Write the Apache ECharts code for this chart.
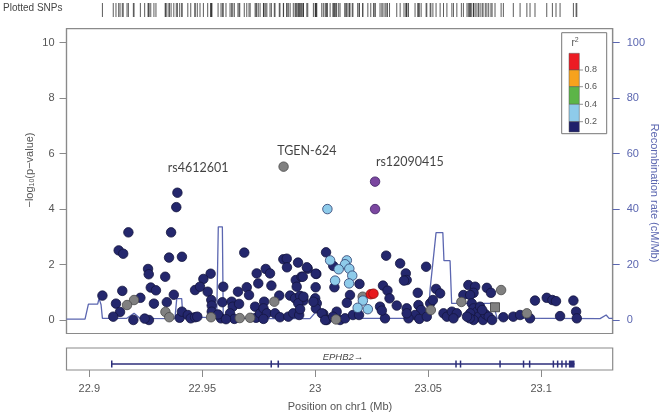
<!DOCTYPE html>
<html><head><meta charset="utf-8">
<script src="https://cdn.jsdelivr.net/npm/echarts@6/dist/echarts.min.js"></script>
<style>html,body{margin:0;padding:0;background:#fff}#c{width:661px;height:416px}</style>
</head><body><div id="c"></div>
<script>
// ---- data ----
const navySNPs = [
[22.939,4.59],[22.9385,4.07],[22.9173,3.16],[22.9362,3.16],[22.913,2.51],[22.915,2.39],[22.9353,2.25],[22.941,2.28],
[22.9686,2.43],[22.9859,2.19],[22.9874,2.21],[22.9875,1.90],[22.9924,2.07],[22.9967,1.85],[23.0005,1.66],[23.0048,2.44],
[22.926,1.84],[22.9263,1.65],[22.9336,1.56],[22.9537,1.67],[22.9505,1.48],[22.9741,1.68],[22.9781,1.84],[22.98,1.68],
[22.9748,1.32],[22.9806,1.24],[22.9914,1.44],[22.9939,1.56],[22.9918,1.20],[23.0002,1.18],[22.9058,0.88],[22.9146,1.05],
[22.9272,1.17],[22.9295,1.07],[22.9226,0.80],[22.9118,0.59],[22.9136,0.29],[22.9106,0.12],[22.9286,0.59],[22.9264,0.0],
[22.9343,0.64],[22.9374,0.91],[22.940,0.08],[22.941,0.30],[22.9436,0.18],[22.9449,0.06],[22.9468,0.10],[22.9478,0.12],
[22.9468,1.08],[22.949,1.20],[22.9524,1.02],[22.954,0.72],[22.9542,0.52],[22.9542,0.30],[22.9589,0.64],[22.9593,1.20],
[22.9583,0.06],[22.963,0.66],[22.9635,0.48],[22.9623,0.24],[22.9642,0.04],[22.9663,0.58],[22.9658,1.02],[22.9697,1.18],
[22.9707,0.90],[22.9734,0.48],[22.9738,0.08],[22.9756,0.24],[22.9774,0.66],[22.9771,0.42],[22.9786,0.24],[22.9771,0.04],
[22.9841,0.88],[22.9822,0.24],[22.9844,0.10],[22.9881,0.12],[22.9903,0.24],[22.9929,0.18],[22.9889,0.88],[22.9911,0.78],
[22.9933,0.87],[22.9948,0.70],[22.9925,0.60],[22.9933,0.39],[23.0,0.78],[23.0007,0.60],[23.0003,0.42],[23.0036,0.22],
[23.0051,0.0],[23.0095,0.30],[23.008,1.95],[22.9963,1.90],[23.0002,1.67],[22.9945,1.56],[22.9948,0.84],[22.9992,0.66],
[23.0085,1.18],[23.0154,0.90],[23.014,0.62],[23.0196,1.30],[23.0314,2.32],[23.03,1.24],[23.032,1.06],[23.0329,0.78],
[23.0287,0.48],[23.0309,0.06],[23.0295,0.34],[23.0376,2.04],[23.0401,1.68],[23.0405,1.44],[23.0393,1.42],[23.0454,0.98],
[23.0491,1.92],[23.0361,0.52],[23.0405,0.42],[23.0457,0.54],[23.0469,0.36],[23.0509,0.60],[23.0521,0.72],[23.0535,1.12],
[23.0553,0.96],[23.0442,0.18],[23.0461,0.04],[23.0494,0.12],[23.0413,0.06],[23.0405,0.24],[23.0568,0.24],[23.0583,0.12],
[23.0605,0.30],[23.0627,0.24],[23.0612,0.06],[23.0656,0.90],[23.0678,1.26],[23.0708,1.20],[23.0701,0.98],[23.0686,0.90],
[23.0760,1.16],[23.0778,0.98],[23.0693,0.60],[23.0701,0.42],[23.0716,0.30],[23.073,0.48],[23.0723,0.12],[23.0686,0.24],
[23.0701,0.0],[23.0743,0.0],[23.0753,0.21],[23.0768,0.12],[23.0783,0.0],[23.0739,0.36],[23.0684,0.06],[23.0672,0.12],
[23.0833,0.10],[23.0877,0.12],[23.0907,0.18],[23.0951,0.06],[23.0973,0.70],[23.1025,0.80],[23.105,0.72],[23.1066,0.68],
[23.1084,0.14],[23.1143,0.70],[23.1155,0.30],[23.1158,0.06],[23.0029,0.24],[23.0044,0.0],[23.0079,0.12],[23.011,0.0],
[23.0132,0.06],[23.0167,0.18],[23.0194,0.18],[22.9245,0.05],[22.9195,0.0],[22.957,0.2],[22.9605,0.03]
];
const graySNPs = [
[22.986,5.53],[22.9198,0.72],[22.9167,0.54],[22.9337,0.29],[22.9354,0.10],[22.9539,0.10],[22.9666,0.07],[22.9712,0.08],
[22.9819,0.66],[23.0512,0.36],[23.0647,0.65],[23.0823,1.08],[23.0937,0.24],[23.0092,0.02],[23.021,0.84]
];
const grayBoxSNPs = [[23.0796,0.46]];
const blueSNPs = [
[23.0054,4.0],[23.0066,2.15],[23.014,2.15],[23.0132,2.01],[23.0104,1.83],[23.0151,1.85],[23.0164,1.60],[23.0088,1.42],
[23.015,1.32],[23.0211,0.70],[23.0188,0.44],[23.0233,0.39]
];
const redSNPs = [[23.0246,0.93],[23.0258,0.95]];
const purpleSNPs = [[23.0265,4.99],[23.0265,4.0]];

const recombPos = [22.8899,22.8981,22.8996,22.9037,22.9043,22.9052,22.9058,22.9166,22.9198,22.9224,22.9379,22.9387,22.9409,22.9414,
  22.9564,22.9571,22.9589,22.9593,22.9694,22.9719,22.9738,22.9977,23.0007,23.0035,23.0141,23.0154,23.0176,23.05,23.0509,
  23.0535,23.0565,23.057,23.0597,23.0604,23.0788,23.0805,23.1261,23.1288,23.1301,23.1317];
const recombRate = [0.3,0.3,5.7,5.7,7.8,5.5,0.6,0.6,2.4,0.6,0.5,7.7,7.7,1.2,
  0.8,33.6,33.6,0.6,0.6,2.4,0.5,0.5,3.3,0.5,0.5,3.0,0.6,0.6,11.4,
  31.5,31.5,21.4,21.4,6.0,6.0,0.7,0.5,1.8,0.6,0.6];

const geneName = "EPHB2\u2192";
const geneSpan = [22.9099, 23.1148];
const geneExons = [[22.9096,22.9102],[22.9802,22.9806],[22.9833,22.9840],[23.0620,23.0625],[23.0640,23.0645],[23.0815,23.0819],
  [23.0919,23.0923],[23.0946,23.0951],[23.1051,23.1055],[23.1070,23.1074],[23.1089,23.1093],[23.1107,23.1111],[23.1123,23.1148]];

const xTicks = [22.9,22.95,23,23.05,23.1];
const pTicks = [0,2,4,6,8,10];
const recTicks = [0,20,40,60,80,100];
const annotations = [["rs4612601",22.9482,5.47],["TGEN-624",22.9963,6.11],["rs12090415",23.0419,5.70]];
const r2Labels = ["0.8","0.6","0.4","0.2"];

// ---- layout ----
const XMIN = 22.8899, XMAX = 23.1317;
const PL = 66.5, PR = 661 - 612.7;
const chart = echarts.init(document.getElementById('c'), null, {renderer:'canvas'});
const FONT = 'Liberation Sans, Arial, sans-serif';
const AX = '#8a8a8a', LAB = '#555', REC = '#5b66b0';

const allPos = [].concat(navySNPs, graySNPs, grayBoxSNPs, blueSNPs, redSNPs, purpleSNPs).map(d => [d[0], 0.5]);

function snpSeries(data, color, border, symbol) {
  return {type:'scatter', xAxisIndex:0, yAxisIndex:0, data, symbol: symbol || 'circle', symbolSize: symbol==='rect'?9:9.5,
    itemStyle:{color, borderColor:border, borderWidth:0.8, opacity:1}, z:3, silent:true};
}

const legendColors = ['#ec1c24','#f7a21d','#5cb548','#8ecbea','#1f216b'];
const lgX = 569, lgTop = 53.3, segH = [16.7,16.7,17.6,17.4,10.3];
const graphics = [
  {type:'text', left:3, top:3, style:{text:'Plotted SNPs', font:'10px '+FONT, fill:'#444'}},
  {type:'rect', shape:{x:561.7,y:32.7,width:45,height:101}, style:{fill:'#fff', stroke:'#777', lineWidth:1}, z:10},
  {type:'text', x:575, y:43, style:{text:'{a|r}{s|2}', rich:{a:{font:'10px '+FONT, fill:'#555'}, s:{font:'7px '+FONT, fill:'#555', verticalAlign:'top', padding:[0,0,6,0]}}, align:'center', verticalAlign:'middle'}, z:11},
];
let yy = lgTop;
legendColors.forEach((c,i)=>{
  graphics.push({type:'rect', shape:{x:lgX,y:yy,width:10.3,height:segH[i]}, style:{fill:c, stroke:'#555', lineWidth:0.5}, z:11});
  yy += segH[i];
  if (i < 4) {
    graphics.push({type:'line', shape:{x1:lgX+10.3,y1:yy,x2:lgX+14,y2:yy}, style:{stroke:'#777', lineWidth:0.8}, z:11});
    graphics.push({type:'text', x:lgX+15.5, y:yy, style:{text:r2Labels[i], font:'9px '+FONT, fill:'#555', verticalAlign:'middle'}, z:11});
  }
});
graphics.push(
  {type:'text', x:30, y:170, rotation:Math.PI/2, style:{text:'{a|\u2212log}{s|10}{a|(p\u2212value)}', rich:{a:{font:'11px '+FONT, fill:'#555'}, s:{font:'7px '+FONT, fill:'#555', padding:[4,0,0,0]}}, align:'center', verticalAlign:'middle'}},
  {type:'text', x:654, y:193, rotation:-Math.PI/2, style:{text:'Recombination rate (cM/Mb)', font:'11px '+FONT, fill:REC, align:'center', verticalAlign:'middle'}},
  {type:'text', x:340, y:407, style:{text:'Position on chr1 (Mb)', font:'11px '+FONT, fill:'#555', align:'center', verticalAlign:'middle'}}
);

const option = {
  animation:false,
  backgroundColor:'#fff',
  grid:[
    {left:PL, right:PR, top:28.7, height:304.8, show:true, borderColor:AX, borderWidth:1.2, backgroundColor:'transparent'},
    {left:PL, right:PR, top:348, height:22, show:true, borderColor:AX, borderWidth:1.2},
    {left:PL, right:PR, top:3, height:14, show:false}
  ],
  xAxis:[
    {gridIndex:0, type:'value', min:XMIN, max:XMAX, axisLine:{show:false}, axisTick:{show:false}, axisLabel:{show:false}, splitLine:{show:false}},
    {gridIndex:1, type:'value', min:XMIN, max:XMAX, axisLine:{show:false},
      axisTick:{show:true, length:7, customValues:xTicks, lineStyle:{color:AX}},
      axisLabel:{show:true, customValues:xTicks, margin:13, color:LAB, fontSize:11, fontFamily:FONT, formatter:v=>String(+v.toFixed(2))},
      splitLine:{show:false}},
    {gridIndex:2, type:'value', min:XMIN, max:XMAX, show:false}
  ],
  yAxis:[
    {gridIndex:0, type:'value', min:-0.487, max:10.505, axisLine:{show:true, lineStyle:{color:AX, width:1.2}},
      axisTick:{show:true, length:7, customValues:pTicks, lineStyle:{color:AX}},
      axisLabel:{show:true, customValues:pTicks, margin:12, color:LAB, fontSize:11, fontFamily:FONT}, splitLine:{show:false}},
    {gridIndex:0, type:'value', position:'right', min:-4.87, max:105.05, axisLine:{show:true, lineStyle:{color:AX, width:1.2}},
      axisTick:{show:true, length:7, customValues:recTicks, lineStyle:{color:REC}},
      axisLabel:{show:true, customValues:recTicks, margin:14, color:REC, fontSize:11, fontFamily:FONT}, splitLine:{show:false}},
    {gridIndex:1, type:'value', min:0, max:1, show:false},
    {gridIndex:2, type:'value', min:0, max:1, show:false}
  ],
  graphic: graphics,
  series:[
    {type:'line', xAxisIndex:0, yAxisIndex:1, data:recombPos.map((p,i)=>[p,recombRate[i]]), symbol:'none',
      lineStyle:{color:REC, width:1.3}, z:2, silent:true},
    snpSeries(navySNPs, '#24276d', '#14153f'),
    snpSeries(graySNPs, '#808080', '#4a4a4a'),
    snpSeries(grayBoxSNPs, '#808080', '#3a3a3a', 'rect'),
    snpSeries(blueSNPs, '#8ecbea', '#2d3e6e'),
    snpSeries(redSNPs, '#e8191d', '#8a1010'),
    snpSeries(purpleSNPs, '#7b47a0', '#3d2063'),
    {type:'scatter', xAxisIndex:0, yAxisIndex:0, data:annotations.map(a=>({value:[a[1],a[2]], name:a[0]})), symbolSize:0,
      label:{show:true, position:'inside', formatter:p=>p.name, color:'#111', fontSize:12.5, fontFamily:'Lato, Open Sans, sans-serif'}, z:5, silent:true},
    {type:'scatter', xAxisIndex:2, yAxisIndex:3, data:allPos, symbol:'rect', symbolSize:[1,14], itemStyle:{color:'#333'}, silent:true},
    {type:'line', xAxisIndex:1, yAxisIndex:2, data:[[geneSpan[0],0.27],[geneSpan[1],0.27]], symbol:'none', lineStyle:{color:'#2c2e7a', width:1.5}, silent:true},
    {type:'custom', xAxisIndex:1, yAxisIndex:2, data:geneExons, silent:true,
      renderItem:(params, api)=>{
        const a = api.coord([api.value(0), 0.27]), b = api.coord([api.value(1), 0.27]);
        const w = Math.max(b[0]-a[0], 1.5);
        return {type:'rect', shape:{x:a[0], y:a[1]-3.5, width:w, height:7}, style:{fill:'#2c2e7a'}};
      }},
    {type:'scatter', xAxisIndex:1, yAxisIndex:2, data:[{value:[23.0123,0.59], name:geneName}], symbolSize:0,
      label:{show:true, position:'inside', formatter:p=>p.name, color:'#111', fontSize:9.5, fontStyle:'italic', fontFamily:FONT}, silent:true}
  ]
};
chart.setOption(option);
</script>
</body></html>
